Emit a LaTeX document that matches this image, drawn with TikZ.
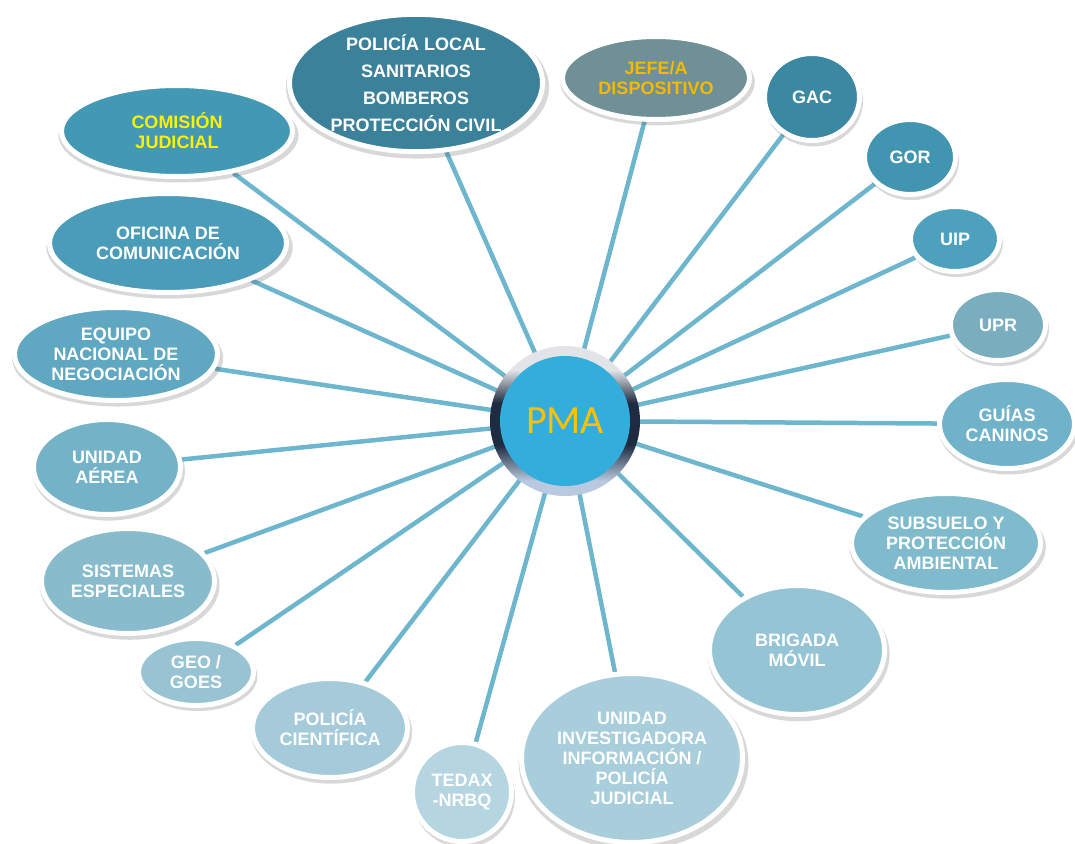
\documentclass[tikz,border=0pt]{standalone}
\usepackage{fontspec}
\setmainfont{Liberation Sans}
\newfontfamily\pmafont{Carlito}
\usetikzlibrary{shapes.geometric,shadows,backgrounds}
\definecolor{pmablue}{HTML}{33ADDC}
\definecolor{pmagold}{HTML}{FFC000}
\definecolor{jefegold}{HTML}{F5B900}
\definecolor{linkcol}{HTML}{6DB6CD}
\definecolor{ringdark}{HTML}{1E2B40}
\definecolor{ringlow}{HTML}{B9C9DF}
\definecolor{ringtop}{HTML}{E2E4E8}
\definecolor{cPolicia}{HTML}{3B8199}
\definecolor{cJefe}{HTML}{6E9096}
\definecolor{cGac}{HTML}{3B88A2}
\definecolor{cGor}{HTML}{4195B0}
\definecolor{cUip}{HTML}{4DA1BC}
\definecolor{cUpr}{HTML}{7AADBE}
\definecolor{cGuias}{HTML}{70B2C9}
\definecolor{cSubsuelo}{HTML}{80BACD}
\definecolor{cBrigada}{HTML}{95C5D5}
\definecolor{cUnidad}{HTML}{A8CDDB}
\definecolor{cTedax}{HTML}{B5D5E1}
\definecolor{cCientifica}{HTML}{A5CBDA}
\definecolor{cGeo}{HTML}{97C3D3}
\definecolor{cSistemas}{HTML}{88BBCC}
\definecolor{cAerea}{HTML}{74B3C7}
\definecolor{cEquipo}{HTML}{60A8C1}
\definecolor{cOficina}{HTML}{4A9CB8}
\definecolor{cComision}{HTML}{4399B3}
\pgfdeclareverticalshading{pmaring}{100bp}{color(0bp)=(ringlow); color(30bp)=(ringlow);
  color(42bp)=(ringdark); color(56bp)=(ringdark); color(67bp)=(ringtop); color(100bp)=(ringtop)}
\tikzset{
grupo/.style={ellipse, draw=white, line width=5pt, fill=#1, text=white,
  font=\fontsize{18}{20}\selectfont\bfseries, align=center, inner sep=0pt,
  drop shadow={shadow xshift=1.5pt, shadow yshift=-4pt, shadow scale=1.04,
    opacity=.22, fill=black!70}},
link/.style={draw=linkcol, line width=4.5pt},
hub/.style={circle, fill=pmablue, text=pmagold, font=\pmafont\fontsize{40}{40}\selectfont,
  minimum size=130pt, inner sep=0pt}
}
\begin{document}
\begin{tikzpicture}[x=1pt,y=-1pt]
\useasboundingbox (0,0) rectangle (1075,843);
\coordinate (centro) at (565,421);
\shade[shading=pmaring] (centro) circle (75);
\node[hub] (pma) at (centro) {PMA};

\node[grupo=cPolicia, minimum width=253, minimum height=135, font=\fontsize{18}{27}\selectfont\bfseries] (policia) at (416,83) {POLICÍA LOCAL\\SANITARIOS\\BOMBEROS\\PROTECCIÓN CIVIL};
\node[grupo=cJefe, minimum width=187, minimum height=83, text=jefegold] (jefe) at (656,78) {JEFE/A\\DISPOSITIVO};
\node[grupo=cGac, minimum width=95, minimum height=87] (gac) at (812,97) {GAC};
\node[grupo=cGor, minimum width=91, minimum height=75] (gor) at (910,157) {GOR};
\node[grupo=cUip, minimum width=89, minimum height=65] (uip) at (955,239) {UIP};
\node[grupo=cUpr, minimum width=95, minimum height=71] (upr) at (998,325) {UPR};
\node[grupo=cGuias, minimum width=135, minimum height=89] (guias) at (1007,424) {GUÍAS\\CANINOS};
\node[grupo=cSubsuelo, minimum width=189, minimum height=99] (subsuelo) at (946,543) {SUBSUELO Y\\PROTECCIÓN\\AMBIENTAL};
\node[grupo=cBrigada, minimum width=175, minimum height=129] (brigada) at (797,650) {BRIGADA\\MÓVIL};
\node[grupo=cUnidad, minimum width=221, minimum height=169] (unidad) at (632,758) {UNIDAD\\INVESTIGADORA\\INFORMACIÓN /\\POLICÍA\\JUDICIAL};
\node[grupo=cTedax, minimum width=99, minimum height=99] (tedax) at (462,792) {TEDAX\\-NRBQ};
\node[grupo=cCientifica, minimum width=155, minimum height=99] (cientifica) at (330,728) {POLICÍA\\CIENTÍFICA};
\node[grupo=cGeo, minimum width=115, minimum height=67] (geo) at (196,672) {GEO /\\GOES};
\node[grupo=cSistemas, minimum width=173, minimum height=105] (sistemas) at (128,581) {SISTEMAS\\ESPECIALES};
\node[grupo=cAerea, minimum width=147, minimum height=95] (aerea) at (107,467) {UNIDAD\\AÉREA};
\node[grupo=cEquipo, minimum width=203, minimum height=93] (equipo) at (116,354) {EQUIPO\\NACIONAL DE\\NEGOCIACIÓN};
\node[grupo=cOficina, minimum width=237, minimum height=99] (oficina) at (168,243) {OFICINA DE\\COMUNICACIÓN};
\node[grupo=cComision, minimum width=231, minimum height=91, text=yellow] (comision) at (177,131) {COMISIÓN\\JUDICIAL};

\begin{pgfonlayer}{background}
\foreach \n in {policia,jefe,gac,gor,uip,upr,guias,subsuelo,brigada,unidad,tedax,cientifica,geo,sistemas,aerea,equipo,oficina,comision}
  \draw[link] (pma) -- (\n);
\end{pgfonlayer}
\end{tikzpicture}
\end{document}
